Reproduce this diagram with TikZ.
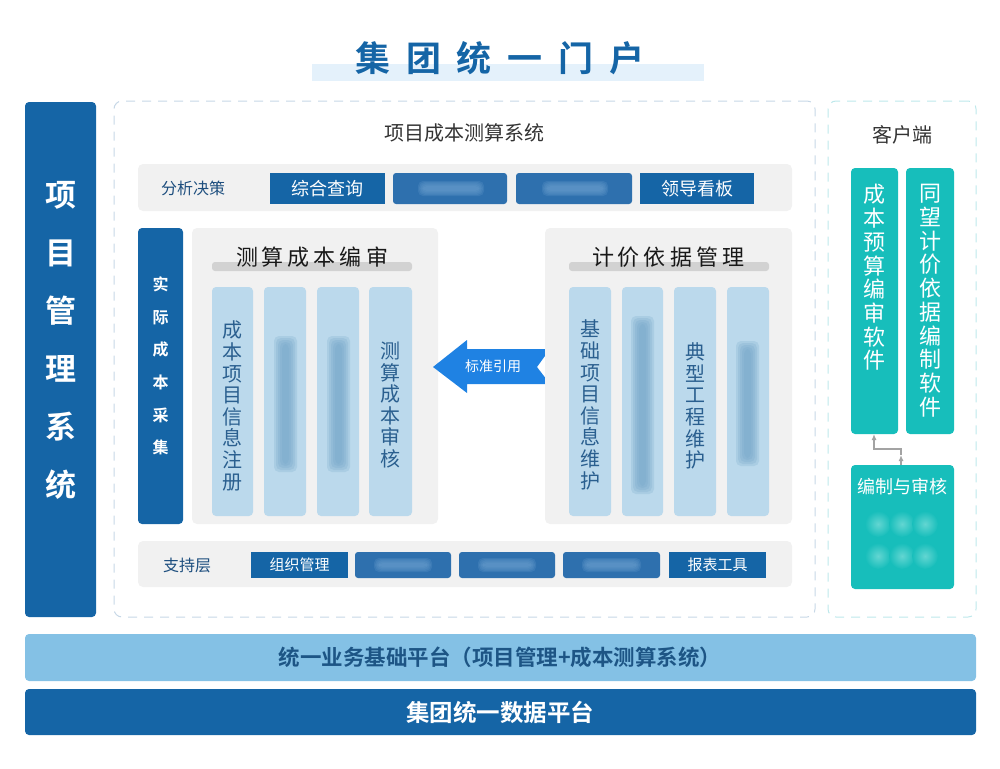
\documentclass[tikz,border=0pt]{standalone}
\usepackage{fontspec}
\setmainfont{Noto Sans CJK SC}[BoldFont={Noto Sans CJK SC Bold}]
\usetikzlibrary{arrows.meta}
\definecolor{dblue}{HTML}{1565A6}
\definecolor{blurblue}{HTML}{2E70AE}
\definecolor{blurlite}{HTML}{6C9FD0}
\definecolor{panel}{HTML}{F1F1F1}
\definecolor{colfill}{HTML}{BBD9EC}
\definecolor{coltext}{HTML}{2A5F8F}
\definecolor{blobc}{HTML}{6FA3C6}
\definecolor{teal}{HTML}{17BEBB}
\definecolor{teallite}{HTML}{63D6D2}
\definecolor{arrowblue}{HTML}{1F82E3}
\definecolor{litebar}{HTML}{84C1E5}
\definecolor{litetext}{HTML}{1D5585}
\definecolor{band}{HTML}{E4F1FB}
\definecolor{dashc}{HTML}{C6D7E6}
\definecolor{tdash}{HTML}{BDE8EB}
\definecolor{graybar}{HTML}{D2D2D2}
\definecolor{lbltext}{HTML}{1D4E7E}
\definecolor{conn}{HTML}{A3A3A3}
\newcommand\rb[7]{\node[box,#6,minimum width={(#4-#2)*1pt},minimum height={(#5-#3)*1pt}] (#1) at ({(#2+#4)/2},{(#3+#5)/2}) {#7};}
% soft blurred patch: x1 y1 x2 y2 colour step
\newcommand\fblur[6]{\foreach \k in {0,...,4}{\fill[#5, opacity=0.22, rounded corners=5pt] ({#1+\k*#6},{#2+\k*#6}) rectangle ({#3-\k*#6},{#4-\k*#6});}}
\begin{document}
\begin{tikzpicture}[x=1pt,y=-1pt,
  box/.style={inner sep=0pt, outer sep=0pt, rounded corners=4pt},
  dbox/.style={fill=dblue, text=white},
  blurbox/.style={fill=blurblue},
  colbox/.style={fill=colfill},
  tealbox/.style={fill=teal, text=white},
  rowbg/.style={fill=panel, rounded corners=5pt},
  dashbox/.style={draw=dashc, line width=1pt, dash pattern=on 9pt off 7pt, rounded corners=8pt},
  vtext/.style={align=center, text=coltext, font=\fontsize{20}{21.6}\selectfont},
  ptitle/.style={font=\fontsize{22}{24}\selectfont, text=black!90},
  btn/.style={font=\fontsize{18}{20}\selectfont},
  sbtn/.style={font=\fontsize{15}{17}\selectfont},
  lbl/.style={font=\fontsize{16}{18}\selectfont, text=lbltext},
  ctext/.style={anchor=north, align=center, text=white, font=\fontsize{22}{23.7}\selectfont},
  connline/.style={draw=conn, line width=1.4pt, -{Latex[length=6pt,width=5pt]}}
]
\useasboundingbox (0,0) rectangle (1000,768);

% title
\fill[band] (312,64) rectangle (704,81);
\node[font=\fontsize{35}{38}\selectfont\bfseries, text=dblue] (title) at (500,58)
  {集\hspace{16pt}团\hspace{16pt}统\hspace{16pt}一\hspace{16pt}门\hspace{16pt}户};

% left bar
\rb{lbar}{25}{102}{96}{617}{dbox}{}
\node[align=center, text=white, font=\fontsize{31}{58}\selectfont\bfseries] (lbart) at (60.5,340)
  {项\\目\\管\\理\\系\\统};

% main dashed area
\rb{main}{114}{101}{815}{617}{dashbox}{}
\node[font=\fontsize{20}{22}\selectfont, text=black!80] (maint) at (464,133) {项目成本测算系统};

% analysis row
\rb{arow}{138}{164}{792}{211}{rowbg}{}
\node[lbl] (alab) at (193,188) {分析决策};
\rb{a1}{270}{173}{385}{204}{dbox,rounded corners=0pt,btn}{综合查询}
\rb{a2}{393}{173}{507}{204}{blurbox,rounded corners=3pt}{}
\rb{a3}{516}{173}{632}{204}{blurbox,rounded corners=3pt}{}
\rb{a4}{640}{173}{754}{204}{dbox,rounded corners=0pt,btn}{领导看板}
\fblur{418}{181}{484}{196}{blurlite}{1.2}
\fblur{542}{181}{608}{196}{blurlite}{1.2}

% actual cost bar
\rb{acbar}{138}{228}{183}{524}{dbox}{}
\node[align=center, text=white, font=\fontsize{16}{32.6}\selectfont\bfseries] (acbart) at (160.5,366)
  {实\\际\\成\\本\\采\\集};

% left panel
\rb{lp}{192}{228}{438}{524}{rowbg}{}
\fill[graybar, rounded corners=3pt] (212,262) rectangle (412,271);
\node[ptitle] (lpt) at (312,257) {测\hspace{4pt}算\hspace{4pt}成\hspace{4pt}本\hspace{4pt}编\hspace{4pt}审};
\rb{lc1}{212}{287}{253}{516}{colbox}{}
\rb{lc2}{264}{287}{306}{516}{colbox}{}
\rb{lc3}{317}{287}{359}{516}{colbox}{}
\rb{lc4}{369}{287}{412}{516}{colbox}{}
\node[vtext] (lc1t) at (232.5,406) {成\\本\\项\\目\\信\\息\\注\\册};
\node[vtext] (lc4t) at (390.5,405) {测\\算\\成\\本\\审\\核};
\fblur{274}{336}{297}{472}{blobc}{2}
\fblur{327}{336}{350}{472}{blobc}{2}

% reference arrow
\fill[arrowblue] (433,367) -- (467,340) -- (467,349) -- (550,349) -- (537,367) -- (550,384) -- (467,384) -- (467,393) -- cycle;
\node[text=white, font=\fontsize{14}{16}\selectfont] (arrt) at (493,366.5) {标准引用};

% right panel
\rb{rp}{545}{228}{792}{524}{rowbg}{}
\fill[graybar, rounded corners=3pt] (569,262) rectangle (769,271);
\node[ptitle] (rpt) at (668,257) {计\hspace{4pt}价\hspace{4pt}依\hspace{4pt}据\hspace{4pt}管\hspace{4pt}理};
\rb{rc1}{569}{287}{611}{516}{colbox}{}
\rb{rc2}{622}{287}{663}{516}{colbox}{}
\rb{rc3}{674}{287}{716}{516}{colbox}{}
\rb{rc4}{727}{287}{769}{516}{colbox}{}
\node[vtext] (rc1t) at (590,405) {基\\础\\项\\目\\信\\息\\维\\护};
\node[vtext] (rc3t) at (695,406) {典\\型\\工\\程\\维\\护};
\fblur{631}{316}{654}{494}{blobc}{2}
\fblur{736}{341}{759}{466}{blobc}{2}

% support row
\rb{srow}{138}{541}{792}{587}{rowbg}{}
\node[lbl] (slab) at (187,565) {支持层};
\rb{s1}{251}{552}{348}{578}{dbox,rounded corners=0pt,sbtn}{组织管理}
\rb{s2}{355}{552}{451}{578}{blurbox,rounded corners=3pt}{}
\rb{s3}{459}{552}{555}{578}{blurbox,rounded corners=3pt}{}
\rb{s4}{563}{552}{660}{578}{blurbox,rounded corners=3pt}{}
\rb{s5}{669}{552}{766}{578}{dbox,rounded corners=0pt,sbtn}{报表工具}
\fblur{374}{558}{432}{572}{blurlite}{1.2}
\fblur{478}{558}{536}{572}{blurlite}{1.2}
\fblur{582}{558}{641}{572}{blurlite}{1.2}

% client area
\rb{client}{828}{101}{976}{617}{dashbox,draw=tdash}{}
\node[font=\fontsize{20}{22}\selectfont, text=black!80] (clientt) at (902,135) {客户端};
\rb{cb1}{851}{168}{898}{434}{tealbox}{}
\rb{cb2}{906}{168}{954}{434}{tealbox}{}
\node[ctext] (cb1t) at (874.5,181) {成\\本\\预\\算\\编\\审\\软\\件};
\node[ctext] (cb2t) at (930,181) {同\\望\\计\\价\\依\\据\\编\\制\\软\\件};
\rb{bz}{851}{465}{954}{589}{tealbox}{}
\node[text=white, font=\fontsize{18}{20}\selectfont] (bzt) at (902.5,487) {编制与审核};
\foreach \xx in {878,902,925}{
  \shade[inner color=teallite, outer color=teal] (\xx,524) circle (13);
  \shade[inner color=teallite, outer color=teal] (\xx,556) circle (13);
}
\coordinate (m) at (901,455);
\coordinate (j1) at (901,449);
\coordinate (j2) at (874,449);
\draw[connline] (bz.north -| m) -- (m);
\draw[connline] (m) -- (j1) -- (j2) -- (cb1.south -| j2);

% bottom bars
\rb{biz}{25}{634}{976}{681}{fill=litebar}{}
\node[text=litetext, font=\fontsize{21.5}{24}\selectfont\bfseries] (bizt) at (500,657.5)
  {统一业务基础平台（项目管理+成本测算系统）};
\rb{data}{25}{689}{976}{735}{dbox}{}
\node[text=white, font=\fontsize{23.5}{26}\selectfont\bfseries] (datat) at (500,712)
  {集团统一数据平台};
\end{tikzpicture}
\end{document}
